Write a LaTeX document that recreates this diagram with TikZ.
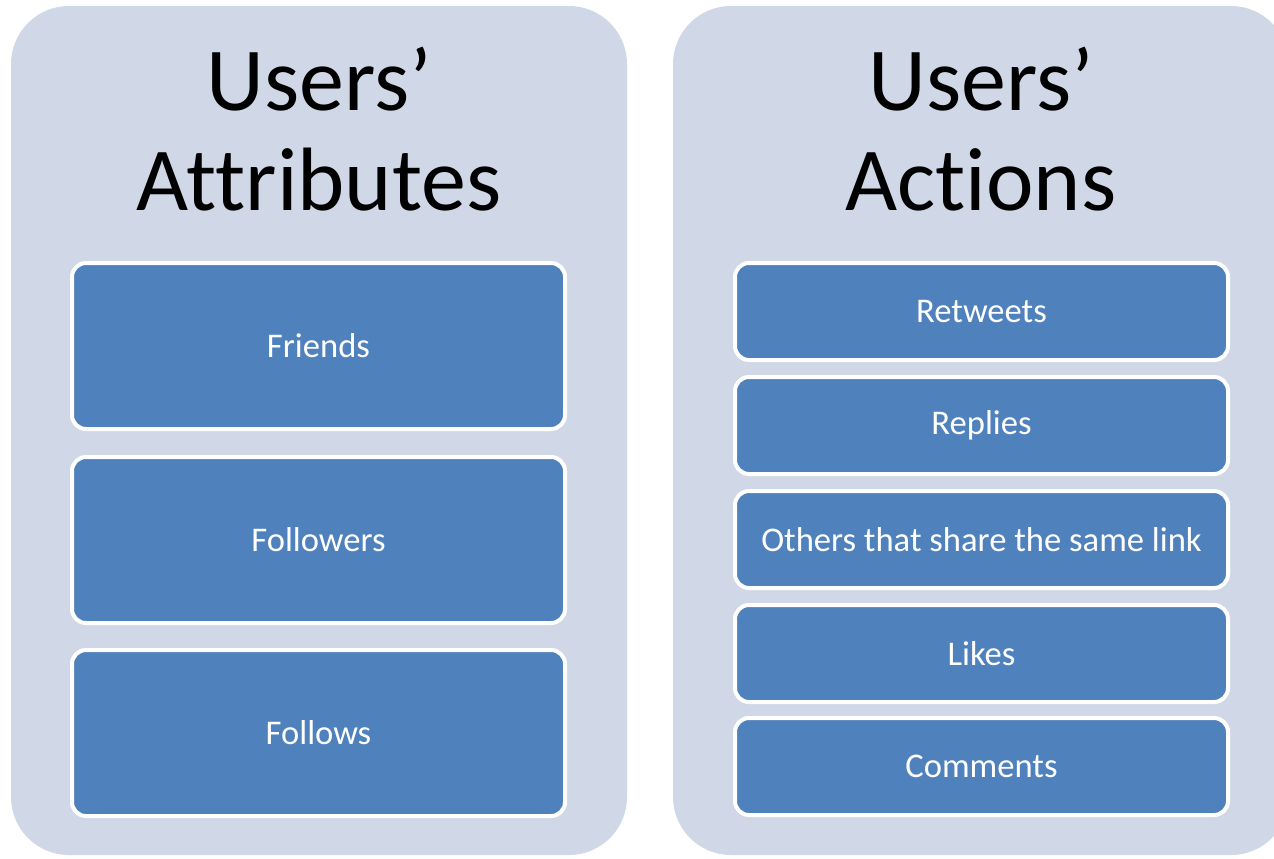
\documentclass[tikz,border=0pt]{standalone}
\usepackage{fontspec}
\setmainfont[Ligatures={NoCommon}]{Carlito}
\definecolor{panelgray}{HTML}{D0D8E8}
\definecolor{boxblue}{HTML}{4F81BD}
\tikzset{
  panel/.style={fill=panelgray, draw=none, rounded corners=29pt,
    minimum width=308pt, minimum height=424.5pt, inner sep=0pt},
  title/.style={anchor=base, font=\fontsize{45}{50}\selectfont},
  bigbox/.style={fill=boxblue, draw=white, line width=2pt, rounded corners=7pt,
    minimum width=246.5pt, minimum height=83pt, text=white,
    font=\fontsize{17.3}{20}\selectfont},
  smallbox/.style={bigbox, minimum height=48.5pt}
}
\begin{document}
\begin{tikzpicture}[x=0.5pt, y=-0.5pt]
  \useasboundingbox (0,0) rectangle (1274,858);
  % panels
  \node[panel] (attrpanel) at (319,430.5) {};
  \node[panel] (actpanel) at (981,430.5) {};
  % titles
  \node[title] (usersA) at (319,110) {Users’};
  \node[title] (attrs) at (319,210) {Attributes};
  \node[title] (usersB) at (981,110) {Users’};
  \node[title] (acts) at (981,210) {Actions};
  % attributes
  \node[bigbox] (friends) at (318.5,346) {Friends};
  \node[bigbox] (followers) at (318.5,540) {Followers};
  \node[bigbox] (follows) at (318.5,733) {Follows};
  % actions
  \node[smallbox] (retweets) at (981.5,311.5) {Retweets};
  \node[smallbox] (replies) at (981.5,425.5) {Replies};
  \node[smallbox] (others) at (981.5,539.5) {Others that share the same link};
  \node[smallbox] (likes) at (981.5,653.5) {Likes};
  \node[smallbox] (comments) at (981.5,766.5) {Comments};
\end{tikzpicture}
\end{document}
